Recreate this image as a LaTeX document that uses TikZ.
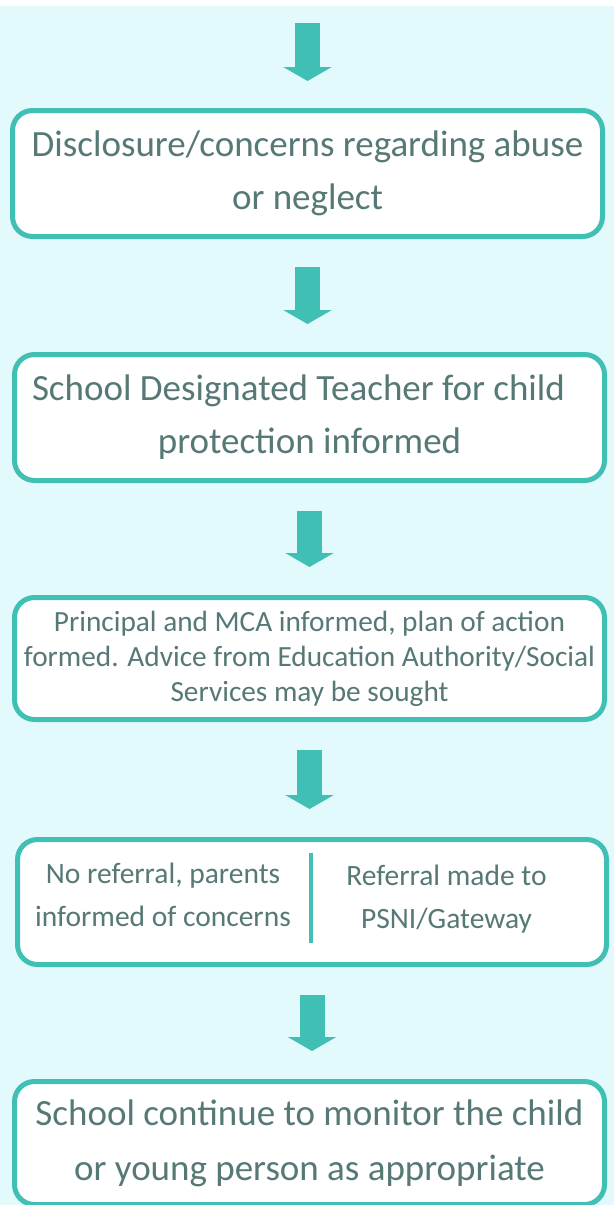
\documentclass[tikz,border=0pt]{standalone}
\usepackage{fontspec}
\setmainfont{Carlito}
\usepackage{tikz}
\usetikzlibrary{arrows.meta}
\definecolor{flowteal}{RGB}{64,191,181}
\definecolor{flowtext}{RGB}{86,120,118}
\definecolor{flowbg}{RGB}{227,250,252}
\tikzset{
  stepbox/.style={shape=rectangle, draw=flowteal, line width=5pt, fill=white, rounded corners=20pt, minimum width=590pt, inner sep=0pt, align=center, text=flowtext},
  bigtext/.style={font=\fontsize{37}{53}\selectfont},
  smalltext/.style={font=\fontsize{29.3}{35}\selectfont},
  sidetext/.style={align=center, text=flowtext, font=\fontsize{29.5}{43.5}\selectfont},
  flowarrow/.style={flowteal, line width=25pt, -{Triangle[length=14pt,width=48pt]}, shorten <=28pt, shorten >=28pt}
}

\begin{document}
\begin{tikzpicture}[x=1pt,y=-1pt]
      \useasboundingbox (0,0) rectangle (614,1205);
      \fill[white] (0,0) rectangle (614,1205);
      \fill[flowbg] (0,6) rectangle (614,1205);

      \node[stepbox, bigtext, minimum height=126pt] (discl) at (307.5,173.5) {Disclosure/concerns regarding abuse\\or neglect};
      \node[stepbox, bigtext, minimum height=126pt] (teacher) at (309.5,417.5) {School Designated Teacher for child\hspace*{22pt}\\protection informed};
      \node[stepbox, smalltext, minimum height=122pt] (princ) at (309.5,658.5) {Principal and MCA informed, plan of action\\formed. Advice from Education Authority/Social\\Services may be sought};
      \node[stepbox, minimum width=589pt, minimum height=125pt] (refer) at (312,902) {};
      \node[sidetext] (noref) at (163,895) {No referral, parents\\informed of concerns};
      \node[sidetext] (psni) at (446.5,899) {Referral made to\\PSNI/Gateway};
      \node[stepbox, bigtext, font=\fontsize{37}{55}\selectfont, minimum height=123pt] (monit) at (309.5,1143) {School continue to monitor the child\\or young person as appropriate};

      \coordinate (top) at (307.5,23);
      \coordinate (divtop) at (311,853);
      \coordinate (divbot) at (311,943);
      \draw[flowteal, line width=4.5pt] (divtop) -- (divbot);

      \draw[flowarrow, shorten <=0pt, shorten >=27pt] (top) -- (discl.north);
      \draw[flowarrow] (discl.south) -- (discl.south |- teacher.north);
      \draw[flowarrow] (teacher.south) -- (teacher.south |- princ.north);
      \draw[flowarrow] (princ.south) -- (princ.south |- refer.north);
      \draw[flowarrow] (refer.south) -- (refer.south |- monit.north);
    \end{tikzpicture}
\end{document}
